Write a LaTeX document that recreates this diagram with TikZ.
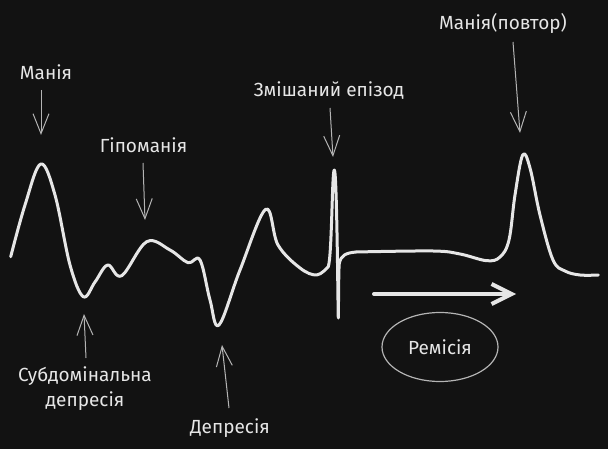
\documentclass[tikz,border=0pt]{standalone}
\usepackage{fontspec}
\setmainfont{Fira Sans}
\usetikzlibrary{arrows.meta,shapes.geometric}
\definecolor{bg}{HTML}{121212}
\definecolor{ink}{HTML}{E6E6E6}
\definecolor{soft}{HTML}{B4B4B4}
\tikzset{
  wave/.style={ink, line width=3pt, line cap=round, line join=round},
  pointer/.style={soft, line width=1pt, -{Straight Barb[length=20pt,width=16pt]}},
  lbl/.style={text=ink, font=\fontsize{19}{25}\selectfont, inner sep=0pt},
}
\begin{document}
\begin{tikzpicture}[x=1pt,y=-1pt]
\fill[bg] (0,0) rectangle (608,449);
\useasboundingbox (0,0) rectangle (608,449);
% wave
\draw[wave] plot[smooth, tension=0.6] coordinates {(10.7,256.7) (25,205) (40.7,164) (55,195) (70,265) (83.3,296.7) (95,282) (107.7,265) (121.7,275.7) (146.7,241.7) (170,250) (188,262.7) (200,260) (210,300) (219,325) (240,270) (265.7,209.3) (278,245) (300,268) (316.7,275) (328.3,266.7)};
\draw[wave] (328.3,266.7) .. controls (332,255) and (332,170) .. (334.3,170) .. controls (337,170) and (338,318) .. (338.3,318) .. controls (338.6,300) and (338.6,270) .. (339.3,263.3) .. controls (341,255) and (346,253) .. (356,252);
\draw[wave] plot[smooth, tension=0.6] coordinates {(356,252) (433,251) (460,254) (486.7,260.7) (500,257) (509,240) (515,195) (522.7,155) (530,168) (540,215) (553,260) (565,271) (580,275) (598.3,275)};
% remission arrow
\draw[ink, line width=4pt, line cap=round, -{Straight Barb[length=20pt,width=20pt,line width=4pt]}] (374,294) -- (516,294);
\node[draw=soft, line width=1.2pt, ellipse, minimum width=116pt, minimum height=69pt, lbl] (rem) at (440,347) {Ремісія};
% labels
\node[lbl] (m1) at (46,72) {Манія};
\coordinate (m1t) at (41,135);
\draw[pointer] (41,90) -- (m1t);
\node[lbl] (hyp) at (143.5,145) {Гіпоманія};
\coordinate (hypt) at (145,220);
\draw[pointer] (143,163) -- (hypt);
\node[lbl] (mix) at (329,91) {Змішаний епізод};
\coordinate (mixt) at (333,157);
\draw[pointer] (330,108) -- (mixt);
\node[lbl] (m2) at (503,23) {Манія(повтор)};
\coordinate (m2t) at (520,133);
\draw[pointer] (513,42) -- (m2t);
\node[lbl, align=center, text width=170pt] (sub) at (85,389) {Субдомінальна\\депресія};
\coordinate (subt) at (84,314);
\draw[pointer] (86,358) -- (subt);
\node[lbl] (dep) at (230,428) {Депресія};
\coordinate (dept) at (222,345);
\draw[pointer] (229,408) -- (dept);
\end{tikzpicture}
\end{document}
